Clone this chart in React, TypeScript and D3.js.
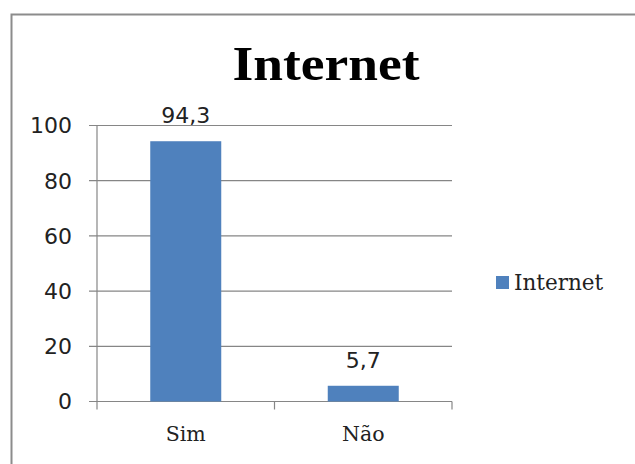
import React from "react";
import * as d3 from "d3";

const categories = ["Sim", "Não"];
const values = [94.3, 5.7];
const valueLabels = ["94,3", "5,7"];
const yTicks = [0, 20, 40, 60, 80, 100];
const seriesName = "Internet";
const title = "Internet";

const W = 635;
const H = 464;
const plot = { left: 97, right: 452, top: 125.5, bottom: 401.5 };
const barColor = "#4f81bd";
const gridColor = "#868686";

export default function App() {
  const x = d3
    .scaleBand<string>()
    .domain(categories)
    .range([plot.left, plot.right])
    .paddingInner(0.6)
    .paddingOuter(0.3);
  const xOuter = d3.scaleBand<string>().domain(categories).range([plot.left, plot.right]);
  const y = d3.scaleLinear().domain([0, 100]).range([plot.bottom, plot.top]);
  const dividers = [plot.left, ...categories.map((c) => (xOuter(c) as number) + xOuter.bandwidth())];

  return (
    <svg
      width={W}
      height={H}
      style={{ position: "absolute", left: 0, top: 0, background: "#fff" }}
    >
      <rect x={0} y={0} width={W} height={H} fill="#fff" />
      <rect x={11.5} y={14.5} width={700} height={600} fill="none" stroke="#8c8c8c" strokeWidth={2} />
      <text
        x={326}
        y={80}
        textAnchor="middle"
        fontFamily="'Liberation Serif', serif"
        fontWeight="bold"
        fontSize={48}
        textLength={187}
        lengthAdjust="spacingAndGlyphs"
        fill="#000"
      >
        {title}
      </text>
      {yTicks.map((t) => (
        <g key={t}>
          <line x1={plot.left - 8} x2={plot.right} y1={y(t)} y2={y(t)} stroke={gridColor} strokeWidth={1.2} />
          <text
            x={72}
            y={y(t)}
            dy="0.36em"
            textAnchor="end"
            fontFamily="'DejaVu Sans', sans-serif"
            fontSize={22}
            fill="#222"
          >
            {t}
          </text>
        </g>
      ))}
      <line x1={plot.left} x2={plot.left} y1={plot.top} y2={plot.bottom} stroke={gridColor} strokeWidth={1.2} />
      {dividers.map((d, i) => (
        <line key={i} x1={d} x2={d} y1={plot.bottom} y2={plot.bottom + 8} stroke={gridColor} strokeWidth={1.2} />
      ))}
      {categories.map((c, i) => {
        const bx = x(c) as number;
        const cx = bx + x.bandwidth() / 2;
        return (
          <g key={c}>
            <rect x={bx} y={y(values[i])} width={x.bandwidth()} height={plot.bottom - y(values[i])} fill={barColor} />
            <text
              x={cx}
              y={y(values[i]) - 18}
              textAnchor="middle"
              fontFamily="'DejaVu Sans', sans-serif"
              fontSize={22}
              fill="#222"
            >
              {valueLabels[i]}
            </text>
            <text
              x={cx}
              y={441}
              textAnchor="middle"
              fontFamily="'DejaVu Serif', serif"
              fontSize={20.5}
              fill="#222"
            >
              {c}
            </text>
          </g>
        );
      })}
      <rect x={496} y={276} width={13} height={13} fill={barColor} />
      <text x={514} y={290} fontFamily="'DejaVu Serif', serif" fontSize={21.5} fill="#222">
        {seriesName}
      </text>
    </svg>
  );
}
